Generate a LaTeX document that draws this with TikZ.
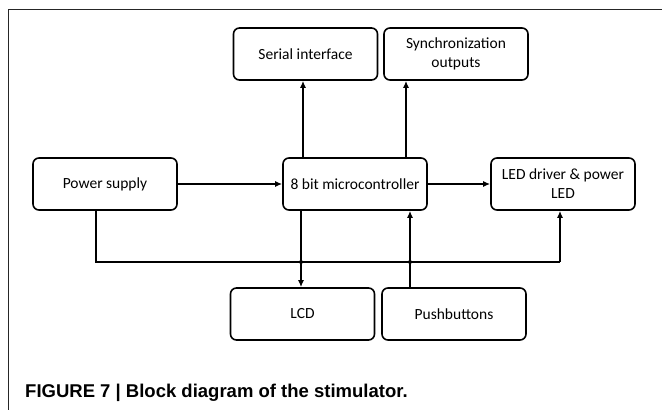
\documentclass[tikz,border=0pt]{standalone}
\usepackage{fontspec}
\setmainfont{Carlito}
\newfontfamily\capfont{Liberation Sans}
\usetikzlibrary{arrows.meta}
\tikzset{
  blk/.style={draw, line width=1.6pt, rounded corners=6pt, minimum width=144pt, minimum height=52pt, inner sep=2pt, align=center, font=\fontsize{15.5}{19}\selectfont},
  arr/.style={line width=1.4pt, -{Latex[length=7pt,width=6pt]}},
  ln/.style={line width=1.4pt},
  frame/.style={line width=0.8pt, draw=black!85}
}
\begin{document}
\begin{tikzpicture}[x=1pt,y=-1pt]
\useasboundingbox (0,0) rectangle (662,410);
\coordinate (ftl) at (8,9);
\coordinate (ftr) at (662,9);
\coordinate (fbl) at (8,410);
\draw[frame] (ftr) -- (ftl) -- (fbl);

\node[blk] (serial) at (305.5,54) {Serial interface};
\node[blk] (sync) at (456,54) {Synchronization\\outputs};
\node[blk] (power) at (105,184) {Power supply};
\node[blk] (mcu) at (355,184) {8 bit microcontroller};
\node[blk] (led) at (563,184) {LED driver \& power\\LED};
\node[blk] (lcd) at (302.5,314) {LCD};
\node[blk] (push) at (454,314) {Pushbuttons};

\draw[arr] ([xshift=-52pt]mcu.north) -- ([xshift=-52pt]mcu.north |- serial.south);
\draw[arr] ([xshift=51pt]mcu.north) -- ([xshift=51pt]mcu.north |- sync.south);
\draw[arr] (power.east) -- (mcu.west);
\draw[arr] (mcu.east) -- (led.west);

\coordinate (busL) at (96,262);
\coordinate (busR) at (560,262);
\coordinate (j1) at (301,262);
\coordinate (j2) at (410,262);
\draw[ln] ([xshift=-9pt]power.south) -- (busL) -- (busR);
\draw[arr] (busR) -- (busR |- led.south);
\draw[arr] ([xshift=-54pt]mcu.south) -- ([xshift=-54pt]mcu.south |- lcd.north);
\draw[arr] ([xshift=-44pt]push.north) -- ([xshift=-44pt]push.north |- mcu.south);
\fill (j1) circle (2pt);
\fill (j2) circle (2pt);

\node[anchor=base west, inner sep=0pt, font=\capfont\bfseries\fontsize{18.5}{22}\selectfont] (cap) at (25,397) {FIGURE 7 | Block diagram of the stimulator.};
\end{tikzpicture}
\end{document}
